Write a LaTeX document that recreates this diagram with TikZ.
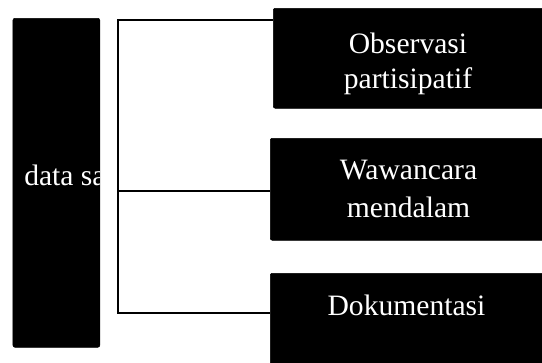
\documentclass[tikz,border=0pt]{standalone}
\usepackage{fontspec}
\setmainfont{Liberation Serif}
\begin{document}
\begin{tikzpicture}[x=0.75pt,y=-0.75pt,
  box/.style={fill=black,draw=black,rounded corners=1.5pt,inner sep=0pt,anchor=north west},
  lbl/.style={text=white,font=\fontsize{22.2}{26.25}\selectfont,align=center,inner sep=0pt},
  conn/.style={line width=1.2pt,draw=black}]
\useasboundingbox (0,0) rectangle (542,362);
\clip (0,0) rectangle (542,362);
% boxes
\node[box,minimum width=65.1pt,minimum height=246.75pt] (src) at (12.7,18) {};
\node[box,minimum width=206.25pt,minimum height=75pt] (b1) at (273,8) {};
\node[box,minimum width=208.5pt,minimum height=76.5pt] (b2) at (270,138) {};
\node[box,minimum width=208.5pt,minimum height=71.25pt] (b3) at (270,273) {};
% clipped label of the source box
\begin{scope}
  \clip (12.7,18) rectangle (99.5,347);
  \node[lbl,anchor=base west] (srct) at (24,185) {data sa};
\end{scope}
% labels
\node[lbl,anchor=center] (t1) at (408,64) {Observasi\\partisipatif};
\node[lbl,anchor=center,font=\fontsize{22.2}{28.5}\selectfont] (t2) at (408.5,189.4) {Wawancara\\mendalam};
\node[lbl,anchor=base] (t3) at (406.5,315) {Dokumentasi};
% connectors
\coordinate (jt) at (118,20);
\coordinate (jm) at (118,191);
\coordinate (jb) at (118,313);
\draw[conn] (b1.west |- jt) -- (jt) -- (jb) -- (b3.west |- jb);
\draw[conn] (jm) -- (b2.west |- jm);
\end{tikzpicture}
\end{document}
